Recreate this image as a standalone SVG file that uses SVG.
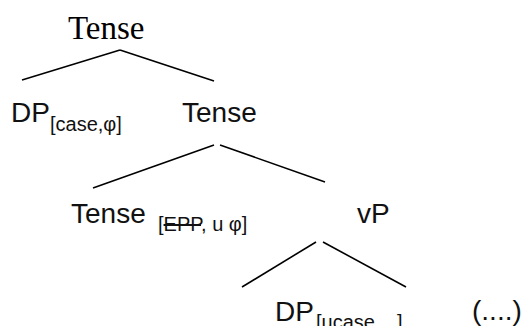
<svg xmlns="http://www.w3.org/2000/svg" width="524" height="326" viewBox="0 0 524 326">
<style>
.serif{font-family:"Liberation Serif","Times New Roman",serif;font-size:33px;fill:#000}
.lab{font-family:"Liberation Sans",Arial,sans-serif;font-size:28px;fill:#111}
.sub{font-family:"Liberation Sans",Arial,sans-serif;font-size:20px;fill:#111}
.edge{stroke:#000;stroke-width:1.6;fill:none}
</style>
<rect width="524" height="326" fill="#fff"/>
<g id="connectors">
<line class="edge" x1="22" y1="80" x2="120" y2="50"/>
<line class="edge" x1="120" y1="50" x2="214" y2="81"/>
<line class="edge" x1="93" y1="188" x2="214" y2="145"/>
<line class="edge" x1="220" y1="145" x2="325" y2="182"/>
<line class="edge" x1="242" y1="287" x2="316" y2="242"/>
<line class="edge" x1="323" y1="242" x2="406" y2="287"/>
</g>
<g id="tense-root"><text class="serif" x="68" y="39">Tense</text></g>
<g id="dp-case"><text class="lab" x="11" y="122">DP</text><text class="sub" x="50" y="131">[case,φ]</text></g>
<g id="tense-bar"><text class="lab" x="182" y="122">Tense</text></g>
<g id="tense-head"><text class="lab" x="71" y="223">Tense</text><text class="sub" x="158" y="231">[<tspan text-decoration="line-through">EPP</tspan>, u φ]</text></g>
<g id="vp"><text class="lab" x="357" y="223">vP</text></g>
<g id="dp-ucase"><text class="lab" x="275" y="321">DP</text><text class="sub" x="316" y="329">[ucase,<tspan x="397">]</tspan></text></g>
<g id="dots"><text class="lab" x="472" y="320">(....)</text></g>
</svg>
